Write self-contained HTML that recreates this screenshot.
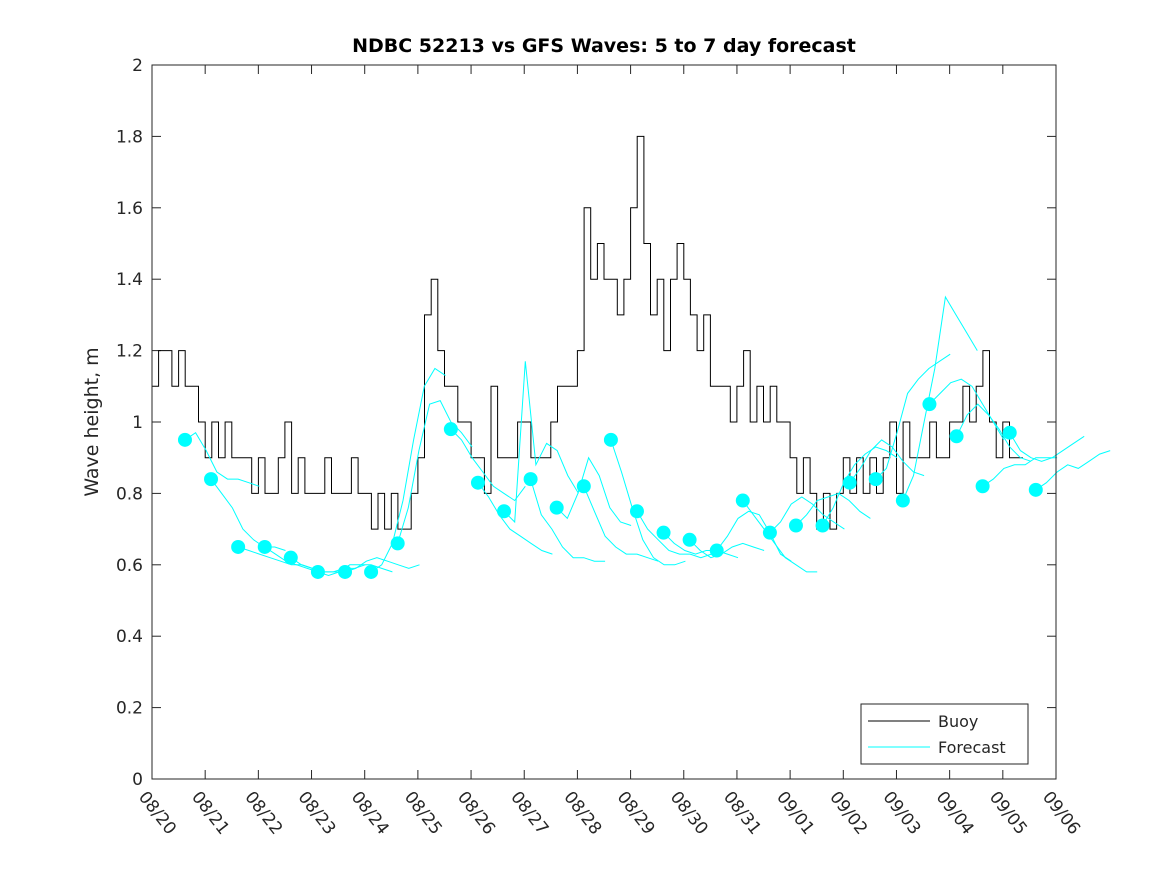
<!DOCTYPE html>
<html><head><meta charset="utf-8"><style>
html,body{margin:0;padding:0;background:#fff}
svg text{font-family:"DejaVu Sans","Liberation Sans",sans-serif}
</style></head><body>
<svg id="chart" width="1167" height="875" viewBox="0 0 1167 875" xmlns="http://www.w3.org/2000/svg">
<rect x="0" y="0" width="1167" height="875" fill="#fff"/>
<text x="604" y="52" text-anchor="middle" font-size="19" font-weight="bold">NDBC 52213 vs GFS Waves: 5 to 7 day forecast</text>
<text x="98" y="422" text-anchor="middle" font-size="19" fill="#262626" transform="rotate(-90 98 422)">Wave height, m</text>
<g id="axes"></g>
<g id="series"></g>
<rect x="152" y="65" width="904" height="714" fill="none" stroke="#262626" stroke-width="1"/>
<g>
<rect x="861" y="704" width="167" height="60" fill="#fff" stroke="#262626"/>
<line x1="868" y1="721" x2="930" y2="721" stroke="#000"/>
<text x="938" y="727" font-size="16" fill="#262626">Buoy</text>
<line x1="868" y1="747" x2="930" y2="747" stroke="#00ffff"/>
<text x="938" y="753" font-size="16" fill="#262626">Forecast</text>
</g>
</svg>
<script>
const xTickLabels=["08/20","08/21","08/22","08/23","08/24","08/25","08/26","08/27","08/28","08/29","08/30","08/31","09/01","09/02","09/03","09/04","09/05","09/06"];
const yTicks=[0,0.2,0.4,0.6,0.8,1,1.2,1.4,1.6,1.8,2];
// buoy at 3-hour steps (0.125 day) starting 08/20
const buoy=[1.1,1.2,1.2,1.1,1.2,1.1,1.1,1.0,
0.9,1.0,0.9,1.0,0.9,0.9,0.9,0.8,
0.9,0.8,0.8,0.9,1.0,0.8,0.9,0.8,
0.8,0.8,0.9,0.8,0.8,0.8,0.9,0.8,
0.8,0.7,0.8,0.7,0.8,0.7,0.7,0.8,
0.9,1.3,1.4,1.2,1.1,1.1,1.0,1.0,
0.9,0.9,0.8,1.1,0.9,0.9,0.9,1.0,
1.0,0.9,0.9,0.9,1.0,1.1,1.1,1.1,
1.2,1.6,1.4,1.5,1.4,1.4,1.3,1.4,
1.6,1.8,1.5,1.3,1.4,1.2,1.4,1.5,
1.4,1.3,1.2,1.3,1.1,1.1,1.1,1.0,
1.1,1.2,1.0,1.1,1.0,1.1,1.0,1.0,
0.9,0.8,0.9,0.8,0.7,0.8,0.7,0.8,
0.9,0.8,0.9,0.8,0.9,0.8,0.9,1.0,
0.8,1.0,0.9,0.9,0.9,1.0,0.9,0.9,
1.0,1.0,1.1,1.0,1.1,1.2,1.0,0.9,
1.0,0.9,0.9];
const dotDays=[0.62,1.11,1.62,2.12,2.61,3.12,3.63,4.12,4.62,5.62,6.13,6.62,7.12,7.61,8.12,8.63,9.12,9.62,10.11,10.62,11.11,11.62,12.11,12.61,13.12,13.61,14.12,14.62,15.13,15.62,16.13,16.62];
// each forecast segment at 0.125-day steps starting at its dot
const fcSegs=[
[0.95,0.97,0.92,0.86,0.84,0.84,0.83,0.82],
[0.84,0.80,0.76,0.70,0.67,0.65,0.65,0.64],
[0.65,0.64,0.63,0.62,0.61,0.60,0.60,0.59],
[0.65,0.63,0.61,0.60,0.59,0.58,0.58,0.58],
[0.62,0.60,0.59,0.58,0.58,0.59,0.59,0.60],
[0.58,0.57,0.58,0.60,0.60,0.60,0.59,0.58],
[0.58,0.59,0.61,0.62,0.61,0.60,0.59,0.60],
[0.58,0.60,0.66,0.78,0.95,1.10,1.15,1.13],
[0.66,0.76,0.92,1.05,1.06,1.00,0.97,0.93],
[0.98,0.95,0.90,0.86,0.82,0.80,0.78,0.82],
[0.83,0.79,0.74,0.70,0.68,0.66,0.64,0.63],
[0.75,0.72,1.17,0.88,0.94,0.92,0.85,0.80],
[0.84,0.74,0.70,0.65,0.62,0.62,0.61,0.61],
[0.76,0.73,0.80,0.90,0.85,0.76,0.72,0.71],
[0.82,0.75,0.68,0.65,0.63,0.63,0.62,0.61],
[0.95,0.86,0.76,0.67,0.62,0.60,0.60,0.61],
[0.75,0.70,0.67,0.64,0.63,0.63,0.62,0.63],
[0.69,0.66,0.64,0.63,0.64,0.64,0.63,0.62],
[0.67,0.64,0.62,0.63,0.65,0.66,0.65,0.64],
[0.64,0.68,0.73,0.75,0.74,0.69,0.63,0.61],
[0.78,0.74,0.70,0.66,0.62,0.60,0.58,0.58],
[0.69,0.72,0.77,0.79,0.77,0.74,0.72,0.70],
[0.71,0.74,0.78,0.79,0.80,0.78,0.75,0.73],
[0.71,0.76,0.83,0.88,0.91,0.93,0.92,0.90],
[0.83,0.87,0.92,0.95,0.93,0.89,0.86,0.85],
[0.84,0.87,0.97,1.08,1.12,1.15,1.17,1.19],
[0.78,0.85,1.00,1.15,1.35,1.30,1.25,1.20],
[1.05,1.08,1.11,1.12,1.10,1.05,1.00,0.95],
[0.96,1.02,1.05,1.02,0.98,0.93,0.90,0.89],
[0.82,0.84,0.87,0.88,0.88,0.90,0.90,0.90],
[0.97,0.92,0.90,0.89,0.90,0.92,0.94,0.96],
[0.81,0.83,0.86,0.88,0.87,0.89,0.91,0.92]];
const NS="http://www.w3.org/2000/svg";
const X0=152,X1=1056,Y0=779,Y1=65,ND=17,YMAX=2,FSTEP=0.2;
function xs(d){return X0+(X1-X0)*d/ND;}
function ys(v){return Y0-(Y0-Y1)*v/YMAX;}
function mk(tag,attrs,parent){const e=document.createElementNS(NS,tag);for(const k in attrs)e.setAttribute(k,attrs[k]);parent.appendChild(e);return e;}
const axes=document.getElementById('axes'),series=document.getElementById('series');
yTicks.forEach(v=>{const y=ys(v);
const t1=mk('line',{x1:X0,y1:y,x2:X0+9,y2:y,stroke:'#262626'},axes);


const t2=mk('line',{x1:X1,y1:y,x2:X1-9,y2:y,stroke:'#262626'},axes);


const tx=mk('text',{x:X0-9,y:y+6,'text-anchor':'end','font-size':'17',fill:'#262626'},axes);
tx.textContent=String(v);


});
xTickLabels.forEach((lab,i)=>{const x=xs(i);
const t1=mk('line',{x1:x,y1:Y0,x2:x,y2:Y0-9,stroke:'#262626'},axes);


const t2=mk('line',{x1:x,y1:Y1,x2:x,y2:Y1+9,stroke:'#262626'},axes);


const tx=mk('text',{x:x-14,y:Y0+18,'font-size':'17',fill:'#262626',transform:`rotate(52 ${x-14} ${Y0+18})`},axes);
tx.textContent=lab;


});
// buoy step line
let d='';buoy.forEach((v,i)=>{const x=xs(i*0.125),y=ys(v);
if(i===0)d+='M'+x.toFixed(1)+' '+y.toFixed(1)+' ';
else d+='H'+x.toFixed(1)+' V'+y.toFixed(1)+' ';});
d+='H'+xs(buoy.length*0.125).toFixed(1);
const bl=mk('path',{d:d,fill:'none',stroke:'#000','stroke-width':1},series);


fcSegs.forEach((seg,k)=>{let p='';seg.forEach((v,i)=>{p+=(i===0?'M':'L')+xs(dotDays[k]+i*FSTEP).toFixed(1)+' '+ys(v).toFixed(1)+' ';});
const fl=mk('path',{d:p,fill:'none',stroke:'#00ffff','stroke-width':1},series);


});
fcSegs.forEach((seg,k)=>{
const c=mk('circle',{cx:xs(dotDays[k]),cy:ys(seg[0]),r:7,fill:'#00ffff'},series);


});
</script>
</body></html>
